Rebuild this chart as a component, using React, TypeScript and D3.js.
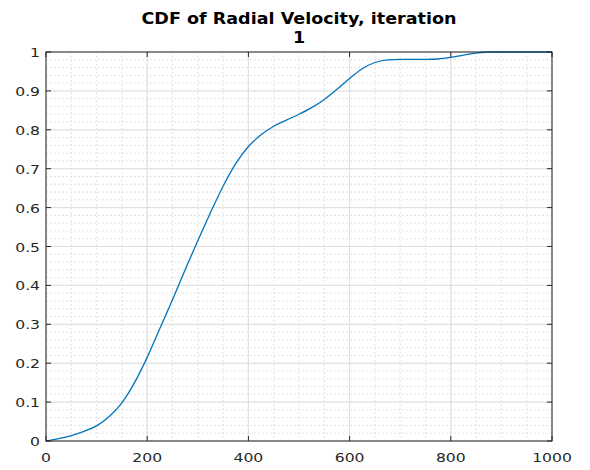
import React from "react";
import * as d3 from "d3";

const velocity = [0, 25, 50, 75, 100, 125, 150, 175, 200, 225, 250, 275, 300, 325, 350, 375, 400, 425, 450, 475, 500, 525, 550, 575, 600, 625, 650, 675, 700, 750, 775, 800, 825, 850, 875, 900, 1000];
const cdf = [0, 0.006, 0.014, 0.025, 0.039, 0.063, 0.098, 0.15, 0.215, 0.289, 0.363, 0.44, 0.515, 0.587, 0.655, 0.713, 0.757, 0.787, 0.809, 0.825, 0.84, 0.857, 0.878, 0.904, 0.932, 0.957, 0.973, 0.98, 0.981, 0.981, 0.982, 0.986, 0.992, 0.997, 1.0, 1.0, 1.0];
const xTicks = [0, 200, 400, 600, 800, 1000];
const yTicks = [0, 0.1, 0.2, 0.3, 0.4, 0.5, 0.6, 0.7, 0.8, 0.9, 1];
const titleLines = ["CDF of Radial Velocity, iteration", "1"];

const W = 590, H = 470;
const L = 46, R = 552, T = 52, B = 441;
const axisColor = "#262626";
const font = "DejaVu Sans";
const stretch = 1.2;

export default function App() {
  const x = d3.scaleLinear().domain([0, 1000]).range([L, R]);
  const y = d3.scaleLinear().domain([0, 1]).range([B, T]);
  const xMinor = d3.range(0, 1001, 50);
  const yMinor = d3.range(0, 51).map((i) => i * 0.02);
  const pts: [number, number][] = velocity.map((v, i) => [v, cdf[i]]);
  const line = d3
    .line<[number, number]>()
    .x((d) => x(d[0]))
    .y((d) => y(Math.min(1, d[1])))
    .curve(d3.curveMonotoneX);
  const tl = 5;
  return (
    <svg width={W} height={H} style={{ position: "absolute", left: 0, top: 0, background: "#fff" }}>
      <rect x={0} y={0} width={W} height={H} fill="#fff" />
      {xMinor.map((v) => (
        <line key={"xm" + v} x1={x(v)} x2={x(v)} y1={T} y2={B} stroke="#dcdcdc" strokeWidth={0.8} strokeDasharray="2,2" />
      ))}
      {yMinor.map((v, i) => (
        <line key={"ym" + i} x1={L} x2={R} y1={y(v)} y2={y(v)} stroke="#dcdcdc" strokeWidth={0.8} strokeDasharray="2,2" />
      ))}
      {xTicks.map((v) => (
        <line key={"xg" + v} x1={x(v)} x2={x(v)} y1={T} y2={B} stroke="#dedede" strokeWidth={1} />
      ))}
      {yTicks.map((v) => (
        <line key={"yg" + v} x1={L} x2={R} y1={y(v)} y2={y(v)} stroke="#dedede" strokeWidth={1} />
      ))}
      <path d={line(pts) || ""} fill="none" stroke="#0072BD" strokeWidth={1.3} />
      <rect x={L} y={T} width={R - L} height={B - T} fill="none" stroke={axisColor} strokeWidth={1} />
      {xTicks.map((v) => (
        <g key={"xt" + v}>
          <line x1={x(v)} x2={x(v)} y1={B} y2={B - tl} stroke={axisColor} />
          <line x1={x(v)} x2={x(v)} y1={T} y2={T + tl} stroke={axisColor} />
          <text transform={`translate(${x(v)},${B + 21}) scale(${stretch},1)`} textAnchor="middle" fontFamily={font} fontSize={13} fill={axisColor}>
            {v}
          </text>
        </g>
      ))}
      {yTicks.map((v) => (
        <g key={"yt" + v}>
          <line x1={L} x2={L + tl} y1={y(v)} y2={y(v)} stroke={axisColor} />
          <line x1={R} x2={R - tl} y1={y(v)} y2={y(v)} stroke={axisColor} />
          <text transform={`translate(${L - 6},${y(v) + 5}) scale(${stretch},1)`} textAnchor="end" fontFamily={font} fontSize={13} fill={axisColor}>
            {String(v)}
          </text>
        </g>
      ))}
      {titleLines.map((t, i) => (
        <text
          key={"t" + i}
          transform={`translate(${(L + R) / 2},${24 + i * 18.5}) scale(1.17,1)`}
          textAnchor="middle"
          fontFamily={font}
          fontSize={15}
          fontWeight="bold"
          fill="#000"
        >
          {t}
        </text>
      ))}
    </svg>
  );
}
